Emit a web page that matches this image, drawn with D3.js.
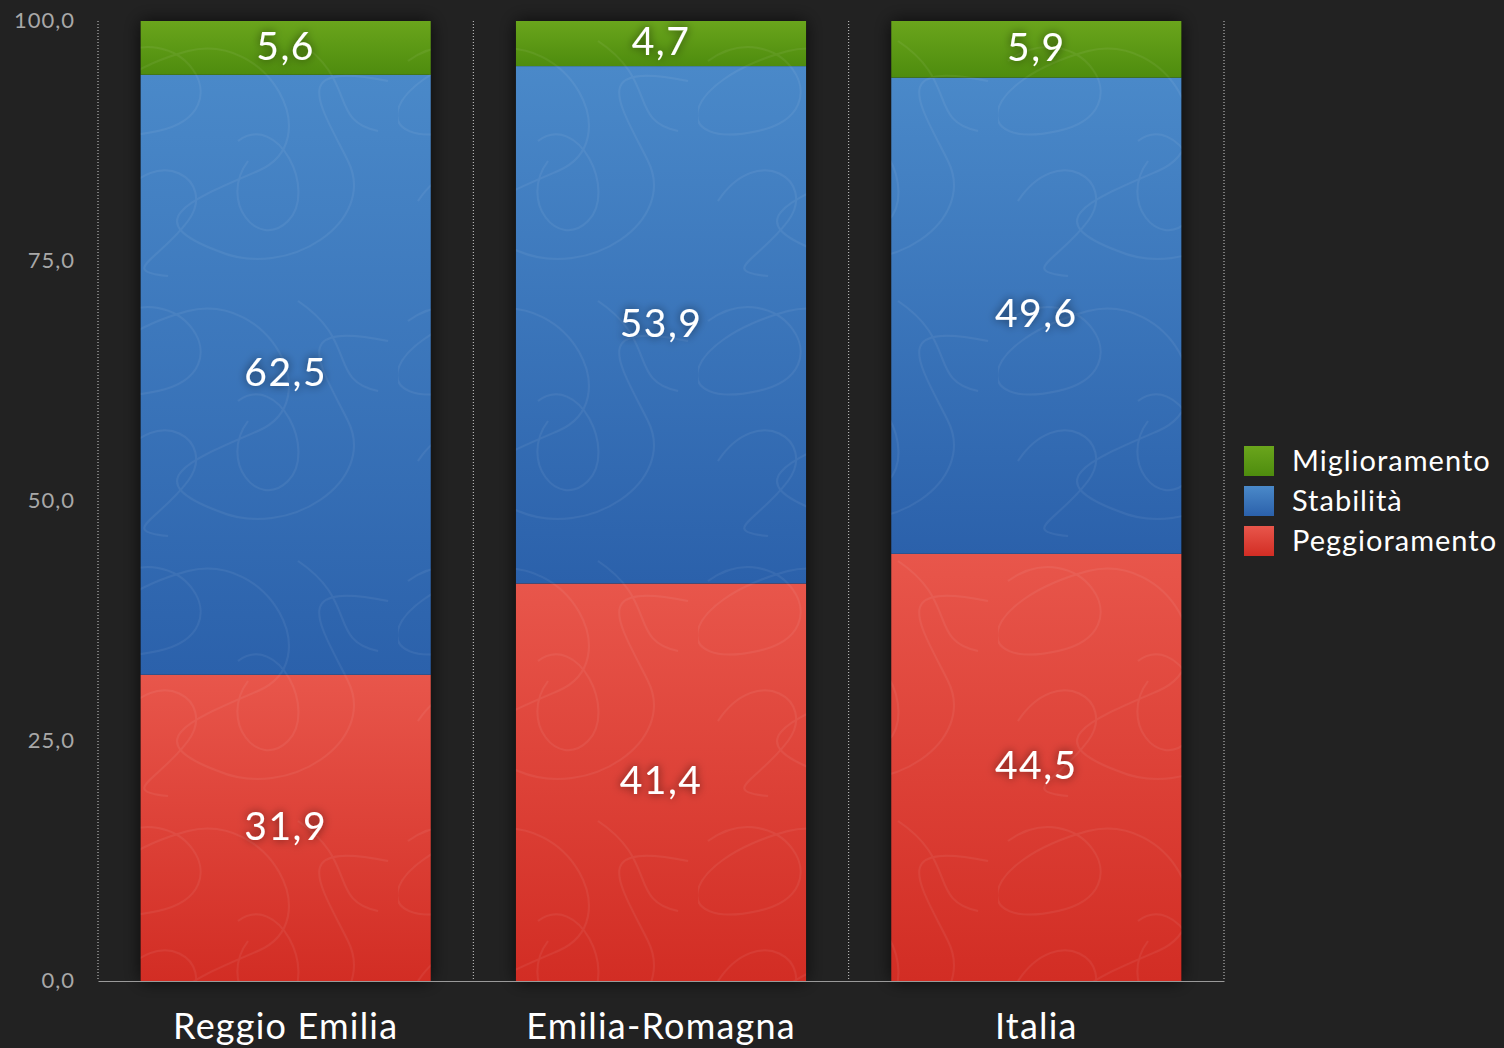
<!DOCTYPE html>
<html>
<head>
<meta charset="utf-8">
<script src="https://cdn.jsdelivr.net/npm/d3@7"></script>
<style>
  html, body { margin: 0; padding: 0; background: #222222; }
  svg { display: block; font-family: Lato, "Open Sans", sans-serif; }
</style>
</head>
<body>
<div id="chart"></div>
<script>
// data
var categories = ["Reggio Emilia", "Emilia-Romagna", "Italia"];
var peggioramento = [31.9, 41.4, 44.5];
var stabilita = [62.5, 53.9, 49.6];
var miglioramento = [5.6, 4.7, 5.9];
var seriesNames = ["Peggioramento", "Stabilità", "Miglioramento"];
var yTicks = [0, 25, 50, 75, 100];

var colors = {
  "Peggioramento": ["#e8564b", "#d22d24"],
  "Stabilità": ["#4a89c9", "#2b61ab"],
  "Miglioramento": ["#6aa51c", "#4e8c0e"]
};

var W = 1504, H = 1048;
var margin = {top: 21, right: 280, bottom: 67, left: 98},
    width = W - margin.left - margin.right,
    height = H - margin.top - margin.bottom;

var svg = d3.select("#chart").append("svg")
    .attr("width", W)
    .attr("height", H);

var defs = svg.append("defs");

seriesNames.forEach(function(s, i) {
  var g = defs.append("linearGradient")
      .attr("id", "grad" + i)
      .attr("x1", 0).attr("y1", 0).attr("x2", 0).attr("y2", 1);
  g.append("stop").attr("offset", "0%").attr("stop-color", colors[s][0]);
  g.append("stop").attr("offset", "100%").attr("stop-color", colors[s][1]);
});

// scribble texture
var pat = defs.append("pattern")
    .attr("id", "scribble")
    .attr("patternUnits", "userSpaceOnUse")
    .attr("width", 300).attr("height", 260);
pat.append("path")
    .attr("d", "M10,40 C80,-10 150,90 60,110 S-20,60 90,30 C170,10 230,120 160,150 S40,200 120,230 C190,260 280,200 250,140 S190,40 290,60" +
               " M20,180 C60,120 120,160 90,200 S20,250 70,255 M200,20 C260,60 230,100 280,110 M140,120 C180,90 220,170 190,200 S120,180 150,140")
    .attr("fill", "none")
    .attr("stroke", "#ffffff")
    .attr("stroke-opacity", 0.06)
    .attr("stroke-width", 2);

var shadow = defs.append("filter").attr("id", "barShadow")
    .attr("x", "-20%").attr("y", "-20%").attr("width", "140%").attr("height", "140%");
shadow.append("feDropShadow").attr("dx", 0).attr("dy", 0)
    .attr("stdDeviation", 9).attr("flood-color", "#000").attr("flood-opacity", 0.7);

var txtShadow = defs.append("filter").attr("id", "txtShadow")
    .attr("x", "-30%").attr("y", "-50%").attr("width", "160%").attr("height", "200%");
txtShadow.append("feDropShadow").attr("dx", 0).attr("dy", 0)
    .attr("stdDeviation", 5).attr("flood-color", "#000").attr("flood-opacity", 0.6);

var g = svg.append("g")
    .attr("transform", "translate(" + margin.left + "," + margin.top + ")");

var x = d3.scaleBand().domain(categories).range([0, width]).padding(0);
var y = d3.scaleLinear().domain([0, 100]).range([height, 0]);
var barW = x.bandwidth() * 0.773;

// build stacked table
var table = categories.map(function(c, i) {
  return {cat: c, "Peggioramento": peggioramento[i], "Stabilità": stabilita[i], "Miglioramento": miglioramento[i]};
});
var stacked = d3.stack().keys(seriesNames)(table);

// dotted separators
var seps = [0].concat(categories.map(function(c) { return x(c) + x.bandwidth(); }));
g.selectAll(".sep").data(seps).enter().append("line")
    .attr("x1", function(d) { return d; }).attr("x2", function(d) { return d; })
    .attr("y1", 0).attr("y2", height)
    .attr("stroke", "#cfcfcf").attr("stroke-width", 1)
    .attr("stroke-dasharray", "1,2");

// bars shadow
g.selectAll(".bshadow").data(categories).enter().append("rect")
    .attr("x", function(d) { return x(d) + (x.bandwidth() - barW) / 2; })
    .attr("y", y(100)).attr("width", barW).attr("height", y(0) - y(100))
    .attr("fill", "#111").attr("filter", "url(#barShadow)");

var layers = g.selectAll(".layer").data(stacked).enter().append("g")
    .attr("class", "layer");

layers.each(function(layer, li) {
  var lg = d3.select(this);
  lg.selectAll("rect.fill").data(layer).enter().append("rect")
      .attr("x", function(d) { return x(d.data.cat) + (x.bandwidth() - barW) / 2; })
      .attr("y", function(d) { return y(d[1]); })
      .attr("width", barW)
      .attr("height", function(d) { return y(d[0]) - y(d[1]); })
      .attr("fill", "url(#grad" + li + ")");
  lg.selectAll("rect.tex").data(layer).enter().append("rect")
      .attr("x", function(d) { return x(d.data.cat) + (x.bandwidth() - barW) / 2; })
      .attr("y", function(d) { return y(d[1]); })
      .attr("width", barW)
      .attr("height", function(d) { return y(d[0]) - y(d[1]); })
      .attr("fill", "url(#scribble)");
});

// value labels
layers.each(function(layer) {
  d3.select(this).selectAll("text").data(layer).enter().append("text")
      .attr("x", function(d) { return x(d.data.cat) + x.bandwidth() / 2; })
      .attr("y", function(d) { return (y(d[0]) + y(d[1])) / 2; })
      .attr("dy", "0.3em")
      .attr("text-anchor", "middle")
      .attr("fill", "#ffffff")
      .attr("font-size", 39)
      .attr("letter-spacing", 1.5)
      .attr("filter", "url(#txtShadow)")
      .text(function(d) { return d3.format(".1f")(d[1] - d[0]).replace(".", ","); });
});

// x axis
var xAxis = g.append("g")
    .attr("transform", "translate(0," + height + ")")
    .call(d3.axisBottom(x).tickSize(0).tickPadding(38));
xAxis.select(".domain").attr("stroke", "#9a9a9a");
xAxis.selectAll("text").attr("fill", "#ffffff").attr("font-size", 36)
    .attr("letter-spacing", 1.2)
    .attr("font-family", "Lato, sans-serif").attr("dy", "0.55em");

// y axis
var yAxis = g.append("g")
    .call(d3.axisLeft(y).tickValues(yTicks).tickSize(0).tickPadding(23)
      .tickFormat(function(d) { return d3.format(".1f")(d).replace(".", ","); }));
yAxis.select(".domain").remove();
yAxis.selectAll("text").attr("fill", "#a8a8a8").attr("font-size", 22)
    .attr("letter-spacing", 1)
    .attr("font-family", "Lato, sans-serif").attr("dy", "0.3em");

// legend
var legendOrder = ["Miglioramento", "Stabilità", "Peggioramento"];
var legend = svg.append("g").attr("transform", "translate(1244,446)");
var li = legend.selectAll(".item").data(legendOrder).enter().append("g")
    .attr("transform", function(d, i) { return "translate(0," + (i * 40) + ")"; });
li.append("rect").attr("width", 30).attr("height", 30)
    .attr("fill", function(d) { return "url(#grad" + seriesNames.indexOf(d) + ")"; });
li.append("text").attr("x", 48).attr("y", 15).attr("dy", "0.35em")
    .attr("fill", "#ffffff").attr("font-size", 29)
    .attr("letter-spacing", 1)
    .text(function(d) { return d; });
</script>
</body>
</html>
